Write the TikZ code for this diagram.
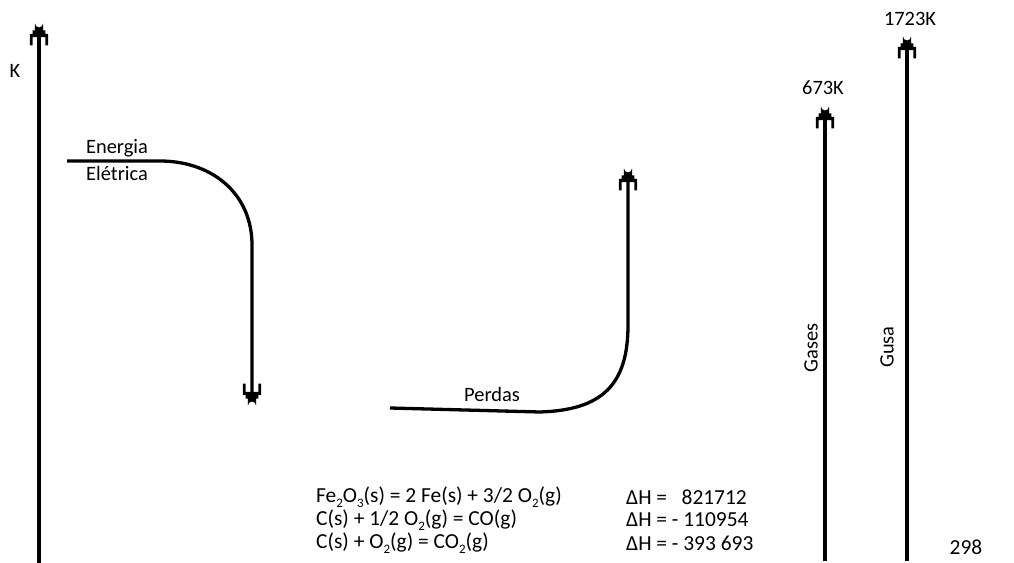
\documentclass[tikz,border=0pt]{standalone}
\usepackage{fontspec}
\setmainfont{Carlito}
\newcommand{\chemsub}[1]{\raisebox{-0.5ex}{\fontsize{13}{13}\selectfont #1}}
\begin{document}
\begin{tikzpicture}[x=1bp,y=-1bp,
  flow/.style={line width=3.3bp,line cap=butt},
  lbl/.style={inner sep=0pt,font=\fontsize{20.5}{24}\selectfont},
  eq/.style={inner sep=0pt,anchor=west,font=\fontsize{21.5}{25}\selectfont},
  tipup/.pic={
    \fill[scale=1.15] (-3.5,9) -- (-3.5,3) arc[start angle=180,end angle=0,radius=3.5] -- (3.5,9) -- (5.5,9) -- (5.5,12) -- (8,12) -- (8,22) -- (5.6,22) -- (5.6,15) -- (-5.6,15) -- (-5.6,22) -- (-8,22) -- (-8,12) -- (-5.5,12) -- (-5.5,9) -- cycle;
  }]
\useasboundingbox (0,0) rectangle (1014,563);
\fill[white] (0,0) rectangle (1014,563);

% left axis
\coordinate (axB) at (39,563);
\coordinate (axT) at (39,20);
\draw[flow] (axB) -- ([yshift=-10bp]axT);
\pic at (axT) {tipup};
\node[lbl] (k) at (15,71) {K};

% Energia eletrica
\coordinate (eS) at (67,161);
\coordinate (eC) at (162,161);
\coordinate (eV) at (252,245);
\coordinate (eT) at (252,409);
\draw[flow] (eS) -- (eC) .. controls (214,162) and (252,195) .. (eV) -- ([yshift=10bp]eT);
\pic[rotate=180] at (eT) {tipup};
\node[lbl] (en) at (117,148) {Energia};
\node[lbl] (el) at (117,173) {Elétrica};

% Perdas
\coordinate (pS) at (390,408);
\coordinate (pC) at (540,412);
\coordinate (pV) at (628,325);
\coordinate (pT) at (628,165);
\draw[flow] (pS) -- (pC) .. controls (602,410) and (628,385) .. (pV) -- ([yshift=-10bp]pT);
\pic at (pT) {tipup};
\node[lbl] (pd) at (492,394) {Perdas};

% Gases
\coordinate (gB) at (825,561);
\coordinate (gT) at (825,103);
\draw[flow] (gB) -- ([yshift=-10bp]gT);
\pic at (gT) {tipup};
\node[lbl] (g673) at (823,88) {673K};
\node[lbl,rotate=90] (gas) at (811,348) {Gases};

% Gusa
\coordinate (uB) at (907,561);
\coordinate (uT) at (907,33);
\draw[flow] (uB) -- ([yshift=-10bp]uT);
\pic at (uT) {tipup};
\node[lbl] (u1723) at (910,19) {1723K};
\node[lbl,rotate=90] (gusa) at (887,347) {Gusa};

\node[eq,anchor=center] (t298) at (966,547) {298};

% equations
\node[eq] (q1) at (316,497) {Fe\chemsub{2}O\chemsub{3}(s) = 2 Fe(s) + 3/2 O\chemsub{2}(g)};
\node[eq] (q2) at (316,520) {C(s) + 1/2 O\chemsub{2}(g) = CO(g)};
\node[eq] (q3) at (316,543) {C(s) + O\chemsub{2}(g) = CO\chemsub{2}(g)};
\node[eq] (h1) at (626,497) {ΔH = \ \ 821712};
\node[eq] (h2) at (626,520) {ΔH = - 110954};
\node[eq] (h3) at (626,543) {ΔH = - 393 693};
\end{tikzpicture}
\end{document}
